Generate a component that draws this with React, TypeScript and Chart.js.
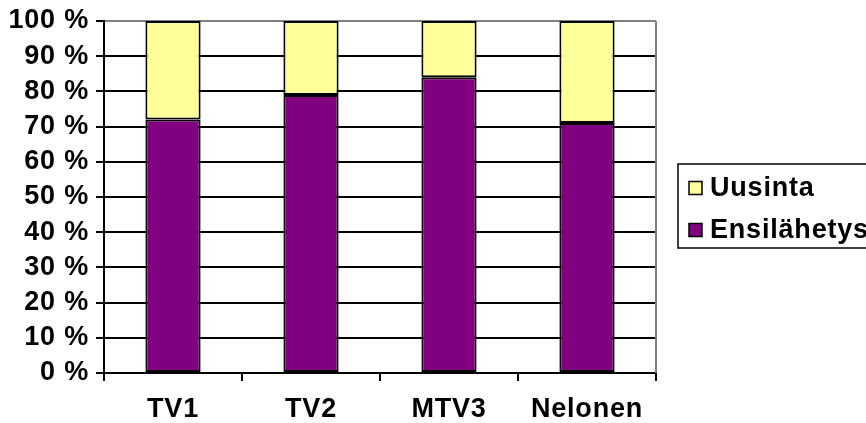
import React, { useEffect, useRef } from "react";
import { Chart, registerables } from "chart.js";

Chart.register(...registerables);

const categories = ["TV1", "TV2", "MTV3", "Nelonen"];
const ensilahetys = [72, 79, 84, 71];
const uusinta = [28, 21, 16, 29];
const yTicks = [0, 10, 20, 30, 40, 50, 60, 70, 80, 90, 100];

const FONT = "'Liberation Sans', Arial, sans-serif";
const SPACING = "0.8px";

const spacingPlugin = {
  id: "spacing",
  beforeUpdate(chart: any) {
    chart.ctx.letterSpacing = SPACING;
  },
  beforeDraw(chart: any) {
    chart.ctx.letterSpacing = SPACING;
  },
};

const framePlugin = {
  id: "frame",
  afterDatasetsDraw(chart: any) {
    const { ctx, chartArea } = chart;
    ctx.save();
    ctx.strokeStyle = "#808080";
    ctx.lineWidth = 2;
    ctx.beginPath();
    ctx.moveTo(chartArea.right, chartArea.top);
    ctx.lineTo(chartArea.right, chartArea.bottom);
    ctx.stroke();
    ctx.restore();
  },
  afterDraw(chart: any) {
    const { ctx } = chart;
    ctx.save();
    ctx.letterSpacing = SPACING;
    ctx.strokeStyle = "#000";
    ctx.lineWidth = 1.5;
    ctx.strokeRect(678, 164, 200, 84);
    const items = [chart.data.datasets[1], chart.data.datasets[0]];
    const ys = [188, 230];
    items.forEach((ds: any, i: number) => {
      const y = ys[i];
      ctx.fillStyle = ds.backgroundColor;
      ctx.fillRect(689, y - 6.5, 13, 13);
      ctx.strokeStyle = "#000";
      ctx.lineWidth = 1.5;
      ctx.strokeRect(689, y - 6.5, 13, 13);
      ctx.fillStyle = "#000";
      ctx.font = `bold 27px ${FONT}`;
      ctx.textBaseline = "middle";
      ctx.textAlign = "left";
      ctx.fillText(ds.label, 710, y + 1);
    });
    ctx.restore();
  },
};

export default function App() {
  const ref = useRef<HTMLCanvasElement>(null);
  useEffect(() => {
    if (!ref.current) return;
    const chart = new Chart(ref.current, {
      type: "bar",
      data: {
        labels: categories,
        datasets: [
          {
            label: "Ensilähetys",
            data: ensilahetys,
            backgroundColor: "#800080",
            borderColor: "#000",
            borderWidth: 2,
            borderSkipped: false,
          },
          {
            label: "Uusinta",
            data: uusinta,
            backgroundColor: "#FFFF99",
            borderColor: "#000",
            borderWidth: 2,
            borderSkipped: false,
          },
        ],
      },
      options: {
        responsive: false,
        animation: false,
        layout: { padding: { top: 21, right: 210, left: 0, bottom: 0 } },
        datasets: { bar: { categoryPercentage: 1, barPercentage: 0.4 } },
        plugins: { legend: { display: false }, tooltip: { enabled: false } },
        scales: {
          x: {
            stacked: true,
            offset: true,
            grid: {
              offset: true,
              drawOnChartArea: false,
              drawTicks: true,
              tickLength: 8,
              color: "#000",
              lineWidth: 2,
            },
            border: { display: true, color: "#000", width: 2 },
            ticks: {
              color: "#000",
              font: { family: FONT, size: 27, weight: "bold" },
              padding: 12,
              maxRotation: 0,
              autoSkip: false,
            },
            afterFit(scale: any) {
              scale.height = 50;
            },
          },
          y: {
            stacked: true,
            min: 0,
            max: 100,
            afterBuildTicks(scale: any) {
              scale.ticks = yTicks.map((v) => ({ value: v }));
            },
            grid: {
              color: (c: any) => (c.tick && c.tick.value === 100 ? "#808080" : "#000"),
              tickColor: "#000",
              lineWidth: 2,
              tickLength: 8,
            },
            border: { display: true, color: "#000", width: 2 },
            ticks: {
              color: "#000",
              font: { family: FONT, size: 27, weight: "bold", lineHeight: 1 },
              padding: 7,
              autoSkip: false,
              callback: (v: any) => `${v} %`,
            },
            afterFit(scale: any) {
              scale.width = 104;
            },
          },
        },
      },
      plugins: [spacingPlugin, framePlugin],
    });
    return () => chart.destroy();
  }, []);
  return (
    <div style={{ position: "fixed", left: 0, top: 0, width: 866, height: 423, background: "#fff" }}>
      <canvas ref={ref} width={866} height={423} style={{ display: "block" }} />
    </div>
  );
}
